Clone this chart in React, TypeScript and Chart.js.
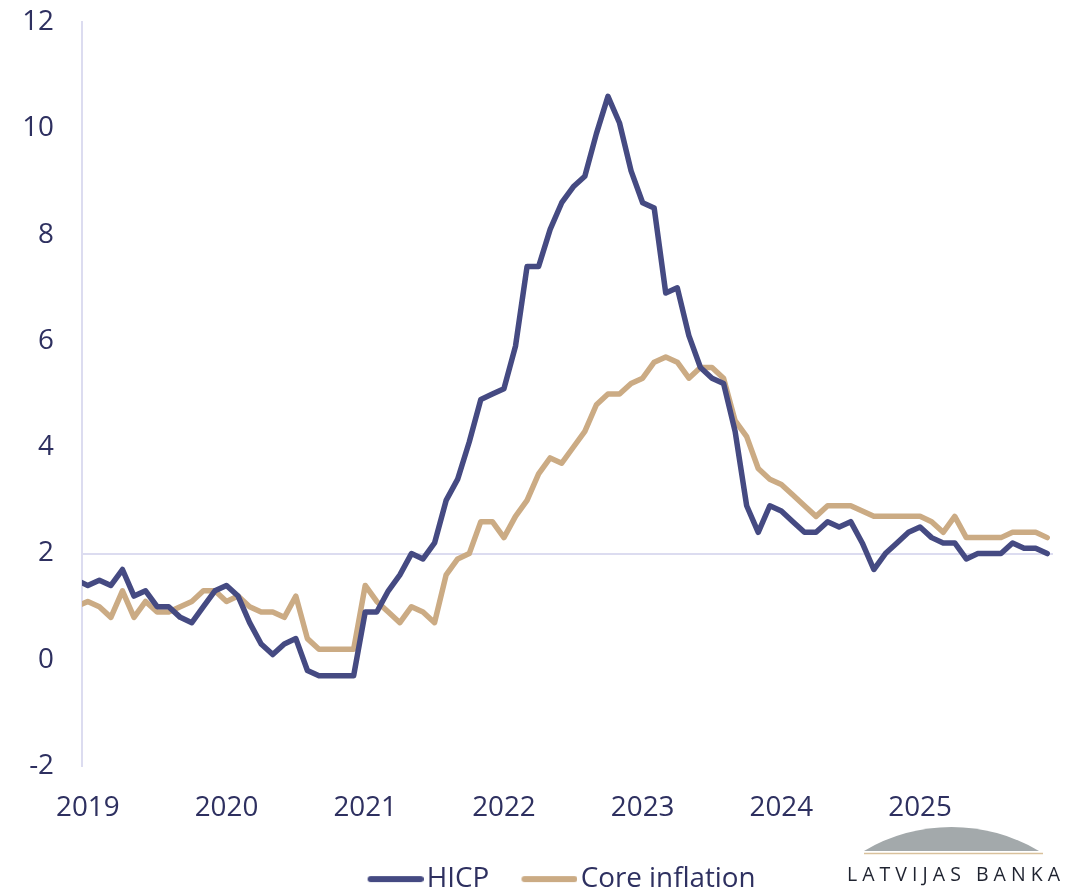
import React, { useEffect, useRef } from 'react';
import { Chart, registerables } from 'chart.js';

Chart.register(...registerables);

// Monthly data, first value = Dec 2018 (x = -1), Jan 2019 = 0 ... Dec 2025 = 83
const firstMonthIndex = -1;

const hicp: number[] = [
  1.5,
  1.4, 1.5, 1.4, 1.7, 1.2, 1.3, 1.0, 1.0, 0.8, 0.7, 1.0, 1.3,
  1.4, 1.2, 0.7, 0.3, 0.1, 0.3, 0.4, -0.2, -0.3, -0.3, -0.3, -0.3,
  0.9, 0.9, 1.3, 1.6, 2.0, 1.9, 2.2, 3.0, 3.4, 4.1, 4.9, 5.0,
  5.1, 5.9, 7.4, 7.4, 8.1, 8.6, 8.9, 9.1, 9.9, 10.6, 10.1, 9.2,
  8.6, 8.5, 6.9, 7.0, 6.1, 5.5, 5.3, 5.2, 4.3, 2.9, 2.4, 2.9,
  2.8, 2.6, 2.4, 2.4, 2.6, 2.5, 2.6, 2.2, 1.7, 2.0, 2.2, 2.4,
  2.5, 2.3, 2.2, 2.2, 1.9, 2.0, 2.0, 2.0, 2.2, 2.1, 2.1, 2.0,
];

const coreInflation: number[] = [
  1.0,
  1.1, 1.0, 0.8, 1.3, 0.8, 1.1, 0.9, 0.9, 1.0, 1.1, 1.3, 1.3,
  1.1, 1.2, 1.0, 0.9, 0.9, 0.8, 1.2, 0.4, 0.2, 0.2, 0.2, 0.2,
  1.4, 1.1, 0.9, 0.7, 1.0, 0.9, 0.7, 1.6, 1.9, 2.0, 2.6, 2.6,
  2.3, 2.7, 3.0, 3.5, 3.8, 3.7, 4.0, 4.3, 4.8, 5.0, 5.0, 5.2,
  5.3, 5.6, 5.7, 5.6, 5.3, 5.5, 5.5, 5.3, 4.5, 4.2, 3.6, 3.4,
  3.3, 3.1, 2.9, 2.7, 2.9, 2.9, 2.9, 2.8, 2.7, 2.7, 2.7, 2.7,
  2.7, 2.6, 2.4, 2.7, 2.3, 2.3, 2.3, 2.3, 2.4, 2.4, 2.4, 2.3,
];

const yearLabels: string[] = ['2019', '2020', '2021', '2022', '2023', '2024', '2025'];
const yTickValues: number[] = [-2, 0, 2, 4, 6, 8, 10, 12];
const seriesLabels: string[] = ['HICP', 'Core inflation'];

const HICP_COLOR = '#454a82';
const CORE_COLOR = '#cbab84';
const TEXT_COLOR = '#2e3060';
const AXIS_COLOR = '#dcdcf0';
const FONT = 'Open Sans';
const FONT_SIZE = 27.8;

function makeSwatch(color: string): HTMLCanvasElement {
  const c = document.createElement('canvas');
  c.width = 99;
  c.height = 8;
  const g = c.getContext('2d')!;
  g.strokeStyle = color;
  g.lineWidth = 6;
  g.lineCap = 'round';
  g.beginPath();
  g.moveTo(46, 4);
  g.lineTo(96, 4);
  g.stroke();
  return c;
}

const legendShift = {
  id: 'legendShift',
  afterLayout(chart: any) {
    const l = chart.legend;
    if (l) {
      l.left += 19;
      l.right += 19;
    }
  },
};

export default function App() {
  const ref = useRef<HTMLCanvasElement>(null);

  useEffect(() => {
    const canvas = ref.current!;
    const swatches = [makeSwatch(HICP_COLOR), makeSwatch(CORE_COLOR)];
    const chart = new Chart(canvas, {
      type: 'line',
      data: {
        datasets: [
          {
            label: seriesLabels[0],
            data: hicp.map((v, i) => ({ x: i + firstMonthIndex, y: v })),
            borderColor: HICP_COLOR,
            backgroundColor: HICP_COLOR,
            borderWidth: 5.5,
            pointRadius: 0,
            borderCapStyle: 'round',
            borderJoinStyle: 'round',
            tension: 0,
            clip: 0,
          },
          {
            label: seriesLabels[1],
            data: coreInflation.map((v, i) => ({ x: i + firstMonthIndex, y: v })),
            borderColor: CORE_COLOR,
            backgroundColor: CORE_COLOR,
            borderWidth: 5.5,
            pointRadius: 0,
            borderCapStyle: 'round',
            borderJoinStyle: 'round',
            tension: 0,
            clip: 0,
          },
        ],
      },
      plugins: [legendShift],
      options: {
        responsive: false,
        animation: false,
        layout: { padding: { top: 22, right: 36, left: 0, bottom: -14 } },
        scales: {
          x: {
            type: 'linear',
            min: -0.5,
            max: 83.5,
            afterBuildTicks: (s: any) => {
              s.ticks = yearLabels.map((_, k) => ({ value: k * 12 }));
            },
            afterFit: (s: any) => {
              s.height = 99;
            },
            ticks: {
              autoSkip: false,
              maxRotation: 0,
              padding: 17,
              color: TEXT_COLOR,
              font: { family: FONT, size: FONT_SIZE },
              callback: (v: any) => yearLabels[Math.round(Number(v) / 12)] ?? '',
            },
            grid: { display: false },
            border: { display: false },
          },
          y: {
            type: 'linear',
            min: -2,
            max: 12,
            afterBuildTicks: (s: any) => {
              s.ticks = yTickValues.map((v) => ({ value: v }));
            },
            afterFit: (s: any) => {
              s.width = 82;
            },
            ticks: {
              padding: 0,
              color: TEXT_COLOR,
              font: { family: FONT, size: FONT_SIZE },
              callback: (v: any) => String(v),
            },
            grid: {
              drawTicks: true,
              tickLength: 28,
              tickColor: 'rgba(0,0,0,0)',
              lineWidth: 2,
              color: (ctx: any) => (ctx.tick && ctx.tick.value === 2 ? AXIS_COLOR : 'rgba(0,0,0,0)'),
            },
            border: { display: true, color: AXIS_COLOR, width: 2 },
          },
        },
        plugins: {
          tooltip: { enabled: false },
          legend: {
            position: 'bottom',
            align: 'center',
            labels: {
              usePointStyle: true,
              pointStyleWidth: 77.5,
              boxHeight: 6,
              padding: 0,
              color: TEXT_COLOR,
              font: { family: FONT, size: FONT_SIZE },
              generateLabels: (c: any) =>
                c.data.datasets.map((ds: any, i: number) => ({
                  text: ds.label,
                  pointStyle: swatches[i],
                  fillStyle: ds.borderColor,
                  strokeStyle: ds.borderColor,
                  lineWidth: 0,
                  hidden: false,
                  datasetIndex: i,
                  fontColor: TEXT_COLOR,
                })),
            },
          },
        },
      },
    } as any);
    return () => chart.destroy();
  }, []);

  return (
    <div style={{ position: 'absolute', left: 0, top: 0, width: 1089, height: 889, background: '#ffffff' }}>
      <canvas ref={ref} width={1089} height={889} style={{ display: 'block' }} />
      <svg
        width={1089}
        height={889}
        style={{ position: 'absolute', left: 0, top: 0, pointerEvents: 'none' }}
      >
        <path d="M864 851 A171.5 171.5 0 0 1 1039 851 Z" fill="#a3a9ab" />
        <line x1={864} y1={853.5} x2={1043} y2={853.5} stroke="#d9c19c" strokeWidth={1.6} />
        <text
          x={847}
          y={881}
          fontFamily="Open Sans"
          fontSize={19.5}
          fill="#1f2330"
          textLength={213}
          lengthAdjust="spacing"
        >
          LATVIJAS BANKA
        </text>
      </svg>
    </div>
  );
}
